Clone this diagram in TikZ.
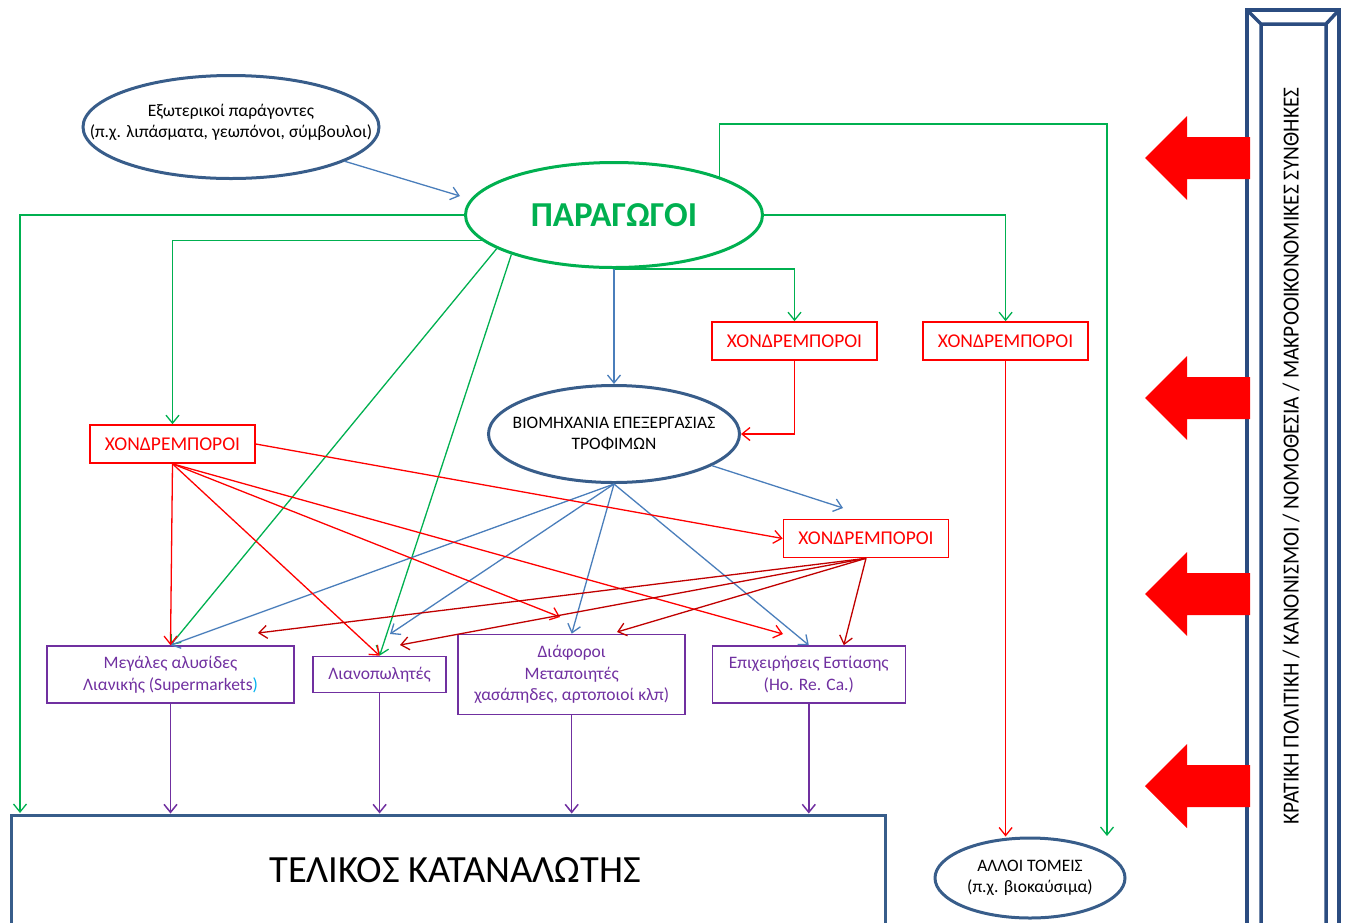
\documentclass[tikz,border=0pt]{standalone}
\usepackage{fontspec}
\setmainfont{Carlito}
\usepackage{graphicx}
\usetikzlibrary{arrows.meta,shapes.geometric,positioning,calc}

\definecolor{prodgreen}{HTML}{00B050}
\definecolor{linkblue}{HTML}{4A7EBB}
\definecolor{ovalblue}{HTML}{385D8A}
\definecolor{whsred}{HTML}{FF0000}
\definecolor{darkred}{HTML}{C00000}
\definecolor{retpurple}{HTML}{7030A0}
\definecolor{frameblue}{HTML}{2B4C80}
\definecolor{superblue}{HTML}{00B0F0}

\begin{document}
\begin{tikzpicture}[x=1pt,y=-1pt,>={Straight Barb[length=8pt,width=13pt]},line width=1.3pt,
  oval/.style={ellipse,draw=ovalblue,line width=3pt,inner xsep=-60pt,inner ysep=0pt,align=center,font=\fontsize{17.5}{20.5}\selectfont},
  whs/.style={draw=whsred,line width=1.6pt,text=whsred,minimum width=165pt,minimum height=38pt,inner sep=0pt,font=\fontsize{19.5}{21}\selectfont},
  outlet/.style={draw=retpurple,line width=1.6pt,text=retpurple,align=center,inner sep=0pt,font=\fontsize{17.5}{21.5}\selectfont},
  grn/.style={->,draw=prodgreen},
  blu/.style={->,draw=linkblue},
  rd/.style={->,draw=whsred},
  drd/.style={->,draw=darkred},
  prp/.style={->,draw=retpurple,line width=1.5pt}]
\useasboundingbox (0,0) rectangle (1346,922);

% ovals
\node[oval,minimum width=296pt,minimum height=103pt] (ext) at (231,127)
  {Εξωτερικοί παράγοντες\\(π.χ. λιπάσματα, γεωπόνοι, σύμβουλοι)\\[-8pt]};
\node[oval,draw=prodgreen,minimum width=297pt,minimum height=105pt,text=prodgreen,font=\fontsize{35}{38}\selectfont\bfseries] (prod) at (614,215) {ΠΑΡΑΓΩΓΟΙ};
\node[oval,minimum width=251pt,minimum height=97pt] (ind) at (614,434)
  {ΒΙΟΜΗΧΑΝΙΑ ΕΠΕΞΕΡΓΑΣΙΑΣ\\ΤΡΟΦΙΜΩΝ};
\node[oval,minimum width=190pt,minimum height=80pt] (other) at (1030,878)
  {ΑΛΛΟΙ ΤΟΜΕΙΣ\\(π.χ. βιοκαύσιμα)};

% wholesalers
\node[whs] (w1) at (794.5,341) {ΧΟΝΔΡΕΜΠΟΡΟΙ};
\node[whs] (w2) [right=44.5pt of w1] {ΧΟΝΔΡΕΜΠΟΡΟΙ};
\node[whs] (w3) at (172.5,444) {ΧΟΝΔΡΕΜΠΟΡΟΙ};
\node[whs] (w4) at (866,538.5) {ΧΟΝΔΡΕΜΠΟΡΟΙ};

% outlets
\node[outlet,minimum width=247pt,minimum height=57pt] (super) at (170.5,674.5)
  {Μεγάλες αλυσίδες\\Λιανικής (Supermarkets{\color{superblue})}};
\node[outlet,minimum width=133pt,minimum height=36pt] (retail) [right=17.5pt of super] {Λιανοπωλητές};
\node[outlet,minimum width=227pt,minimum height=80pt] (proc) [right=10.5pt of retail]
  {Διάφοροι\\Μεταποιητές\\χασάπηδες, αρτοποιοί κλπ)};
\node[outlet,minimum width=193pt,minimum height=57pt] (horeca) [right=25.5pt of proc]
  {Επιχειρήσεις Εστίασης\\(Ho. Re. Ca.)};

\node[draw=ovalblue,line width=3pt,minimum width=874pt,minimum height=110pt,inner sep=0pt,font=\fontsize{38.5}{42}\selectfont] (cons) at (448,870) {\hspace*{14pt}ΤΕΛΙΚΟΣ ΚΑΤΑΝΑΛΩΤΗΣ};

% policy bar
\draw[frameblue,line width=3.5pt,fill=white] (1247,10) rectangle (1339,940);
\draw[frameblue,line width=3.5pt] (1261,24) rectangle (1326,940)
  (1247,10) -- (1261,24) (1339,10) -- (1326,24);
\node[rotate=90,inner sep=0pt] (policy) at (1291,456)
  {\resizebox{737pt}{\height}{\fontsize{23}{23}\selectfont ΚΡΑΤΙΚΗ ΠΟΛΙΤΙΚΗ / ΚΑΝΟΝΙΣΜΟΙ / ΝΟΜΟΘΕΣΙΑ / ΜΑΚΡΟΟΙΚΟΝΟΜΙΚΕΣ ΣΥΝΘΗΚΕΣ}};
\foreach \y in {158,398,594,786}
  \fill[whsred] (1145,\y) -- (1187,\y-42) -- (1187,\y-21) -- (1250,\y-21)
    -- (1250,\y+21) -- (1187,\y+21) -- (1187,\y+42) -- cycle;

% free ends
\coordinate (extin) at (460,196);
\coordinate (consl) at (20,813);
\coordinate (gturn) at (1107,124);
\coordinate (othin) at (1107,836);
\coordinate (indout) at (843,508);
\coordinate (retb) at (390,634);
\coordinate (procr) at (560,617);
\coordinate (horr) at (783,634);
\coordinate (supd) at (258,633);
\coordinate (retd) at (400,645);
\coordinate (procd) at (617,632);
\coordinate (hord) at ($(horeca.north)+(35,0)$);

% producers
\draw[grn] (prod.west) -| (consl);
\draw[grn] (prod.191) -| (w3.north);
\draw[grn] (prod.20) |- (gturn) -- (othin);
\draw[grn] (prod.east) -| (w2.north);
\draw[grn] (prod.south) -| (w1.north);
\path (prod.196) edge[grn] (super.north)
      (prod.201) edge[grn] (retail.north);

\path (ext) edge[blu] (extin)
      (prod.south) edge[blu] (ind.north)
      (ind.south) edge[blu] (super.north)
                  edge[blu] (retb)
                  edge[blu] (proc.north)
                  edge[blu] (horeca.north)
      (ind) edge[blu] (indout);

% wholesalers out
\path (w3.south) edge[rd] (super.north)
                 edge[rd] (retail.north)
                 edge[rd] (procr)
                 edge[rd] (horr)
      (w3.east) edge[rd] (w4.west)
      (w4.south) edge[drd] (supd)
                 edge[drd] (retd)
                 edge[drd] (procd)
                 edge[drd] (hord);
\draw[rd] (w1.south) |- (ind.east);
\draw[rd] (w2.south) -- (w2.south |- other.north);

% to consumer
\foreach \o in {super,retail,proc,horeca}
  \draw[prp] (\o.south) -- (\o.south |- cons.north);
\end{tikzpicture}
\end{document}
